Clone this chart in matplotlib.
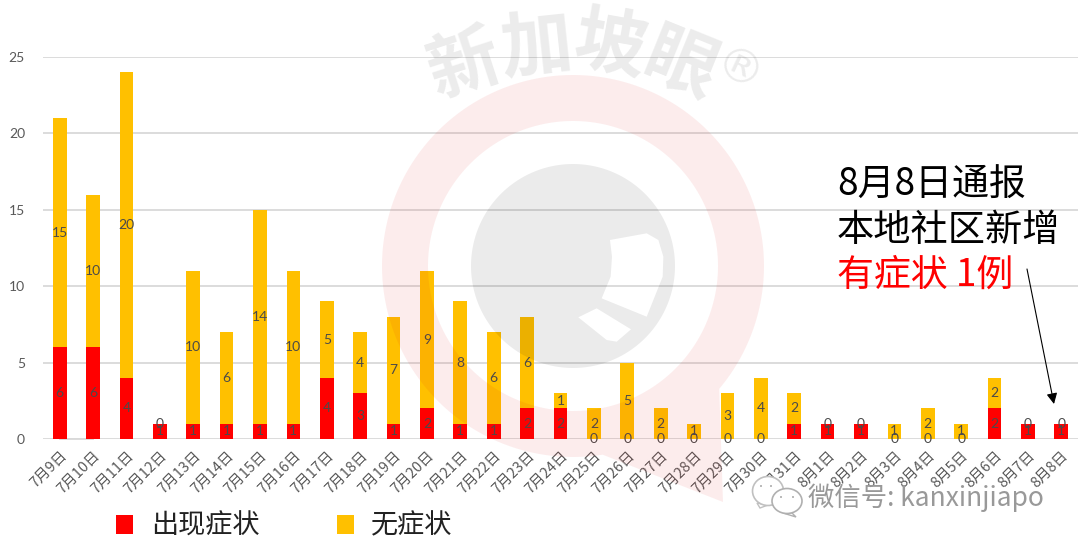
import numpy as np
from matplotlib import pyplot as plt
from matplotlib.path import Path
from matplotlib.patches import PathPatch, Ellipse, Polygon

plt.rcParams['font.family'] = ['Noto Sans CJK SC', 'DejaVu Sans']

dias = ["7月9日", "7月10日", "7月11日", "7月12日", "7月13日", "7月14日", "7月15日", "7月16日",
        "7月17日", "7月18日", "7月19日", "7月20日", "7月21日", "7月22日", "7月23日", "7月24日",
        "7月25日", "7月26日", "7月27日", "7月28日", "7月29日", "7月30日", "7月31日", "8月1日",
        "8月2日", "8月3日", "8月4日", "8月5日", "8月6日", "8月7日", "8月8日"]
com_sintomas = [6, 6, 4, 1, 1, 1, 1, 1, 4, 3, 1, 2, 1, 1, 2, 2, 0, 0, 0, 0, 0, 0, 1, 1, 1, 0, 0, 0, 2, 1, 1]
sem_sintomas = [15, 10, 20, 0, 10, 6, 14, 10, 5, 4, 7, 9, 8, 6, 6, 1, 2, 5, 2, 1, 3, 4, 2, 0, 0, 1, 2, 1, 2, 0, 0]
yticks = [0, 5, 10, 15, 20, 25]

W, H = 1080, 549
fig = plt.figure(figsize=(W / 100, H / 100), dpi=100)
fig.patch.set_facecolor("white")

ax = fig.add_axes([43 / W, 1 - 439 / H, (1078 - 43) / W, (439 - 57) / H])
x = np.arange(len(dias))
b1 = ax.bar(x, com_sintomas, width=0.41, color="#ff0000", label="出现症状", zorder=3)
b2 = ax.bar(x, sem_sintomas, width=0.41, bottom=com_sintomas, color="#ffc000", label="无症状", zorder=3)

for i in range(len(dias)):
    ax.text(i, com_sintomas[i] / 2, str(com_sintomas[i]), ha="center", va="center", fontsize=10,
            color="#4a4a4a", family="Lato", zorder=4)
    ax.text(i, com_sintomas[i] + sem_sintomas[i] / 2, str(sem_sintomas[i]), ha="center", va="center",
            fontsize=10, color="#4a4a4a", family="Lato", zorder=4)

ax.set_xlim(-0.5, len(dias) - 0.5)
ax.set_ylim(0, 25)
ax.set_yticks(yticks)
ax.set_xticks(x)
ax.set_xticklabels(dias, rotation=45, ha="right", va="top", rotation_mode="anchor", fontsize=10.5, color="#595959")
ax.tick_params(axis="x", length=0, pad=7)
ax.tick_params(axis="y", length=0, pad=13, labelsize=10, labelcolor="#595959")
for t in ax.get_yticklabels():
    t.set_family("Lato")
ax.grid(axis="y", color="#d9d9d9", linewidth=1.3, zorder=0)
ax.set_axisbelow(True)
for s in ax.spines.values():
    s.set_visible(False)
ax.plot([0, 1], [0, 0], transform=ax.get_xaxis_transform(), color="#d9d9d9", lw=1.3, zorder=2, clip_on=False)

ax.legend(handles=[b1, b2], loc="center left", bbox_to_anchor=(92 / W, 1 - 526 / H),
          bbox_transform=fig.transFigure, ncol=2, frameon=False, fontsize=19.5, handlelength=0.63,
          handleheight=0.7, handletextpad=0.65, columnspacing=2.85, labelcolor="#222222")

# camada por cima, em pixeis, para a marca de agua e as anotacoes
top = fig.add_axes([0, 0, 1, 1], zorder=5)
top.set_xlim(0, W)
top.set_ylim(H, 0)
top.axis("off")
top.patch.set_alpha(0)


def circulo(cx, cy, r, a1, a2, n=200):
    ang = np.radians(np.linspace(a1, a2, n))
    return np.column_stack([cx + r * np.cos(ang), cy + r * np.sin(ang)])


def caminho(aneis):
    verts, codes = [], []
    for a in aneis:
        verts.extend(a.tolist())
        verts.append(a[0].tolist())
        codes.extend([Path.MOVETO] + [Path.LINETO] * (len(a) - 1) + [Path.CLOSEPOLY])
    return Path(verts, codes)


cx, cy = 573, 266
# anel vermelho com a ponta em baixo
a_ini = np.degrees(np.arctan2(387 - cy, 717 - cx))
a_fim = np.degrees(np.arctan2(457 - cy, 603 - cx))
exterior = np.vstack([[[723, 502]], circulo(cx, cy, 191, a_fim, a_ini + 360)])
interior = circulo(cx, cy, 145, 360, 0)
top.add_patch(PathPatch(caminho([exterior, interior]), facecolor="#e01818", edgecolor="none", alpha=0.08))

# circulo cinzento com o Q branco
q1 = np.array([[720, 540], [830, 520], [865, 540], [880, 590], [878, 650], [830, 770], [695, 715],
               [722, 650], [726, 590]]) / 3 + [370, 60]
q2 = np.array([[625, 772], [680, 745], [783, 808], [740, 845], [710, 840]]) / 3 + [370, 60]
top.add_patch(PathPatch(caminho([circulo(cx, cy, 102, 0, 360), q1[::-1], q2[::-1]]), facecolor="black",
                        edgecolor="none", alpha=0.08))

marca = [("新", 464, 66, 18), ("加", 537, 48, 6), ("坡", 610, 47, -10), ("眼", 680, 66, -22)]
for c, px, py, rot in marca:
    top.text(px, py, c, fontsize=52, fontweight="bold", color="black", alpha=0.08, ha="center", va="center",
             rotation=rot)
top.text(738, 72, "®", fontsize=34, color="black", alpha=0.08, ha="center", va="center", rotation=-25,
         family="DejaVu Sans")

top.text(837, 185, "8月8日通报", fontsize=26.6, color="black", va="center")
top.text(837, 230, "本地社区新增", fontsize=26.8, color="black", va="center")
top.text(837, 275, "有症状 1例", fontsize=26.6, color="#ff0000", va="center")
top.annotate("", xy=(1054, 404), xytext=(1027, 269),
             arrowprops=dict(arrowstyle="-|>", color="black", lw=0.8, mutation_scale=16, shrinkA=0, shrinkB=0))

# logotipo do wechat
top.add_patch(Polygon([[757, 503], [760, 508], [768, 505]], facecolor="white", edgecolor="#c0c0c0", lw=1.0))
top.add_patch(Ellipse((768, 491), 31, 29, facecolor="white", edgecolor="#c0c0c0", lw=1.2))
top.add_patch(Polygon([[790, 511], [796, 517], [783, 513]], facecolor="white", edgecolor="#b0b0b0", lw=1.0))
top.add_patch(Ellipse((787, 501), 30, 25, facecolor="white", edgecolor="#b0b0b0", lw=1.2))
for px, py, r in [(761, 486, 2), (771, 486, 2), (781, 497, 2), (793, 497, 2)]:
    top.add_patch(Ellipse((px, py), r, r, facecolor="#aaaaaa", edgecolor="none"))
top.text(808, 498, "微信号: kanxinjiapo", fontsize=19, color="#999999", va="center", ha="left")

fig.savefig("out.png", dpi=100)
